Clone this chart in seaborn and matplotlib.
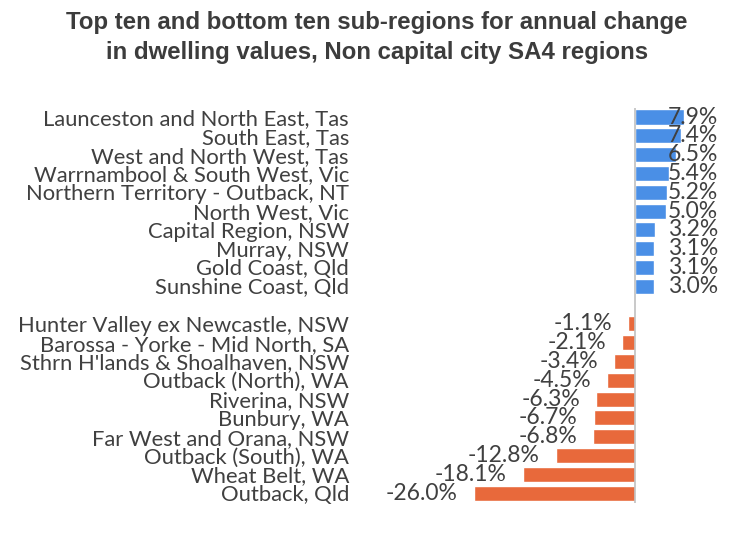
import pandas as pd
import matplotlib.pyplot as plt
import seaborn as sns
import numpy as np

# Data
top_regions = ["Launceston and North East, Tas", "South East, Tas", "West and North West, Tas",
               "Warrnambool & South West, Vic", "Northern Territory - Outback, NT", "North West, Vic",
               "Capital Region, NSW", "Murray, NSW", "Gold Coast, Qld", "Sunshine Coast, Qld"]
top_values = [7.9, 7.4, 6.5, 5.4, 5.2, 5.0, 3.2, 3.1, 3.1, 3.0]

bottom_regions = ["Hunter Valley ex Newcastle, NSW", "Barossa - Yorke - Mid North, SA",
                  "Sthrn H'lands & Shoalhaven, NSW", "Outback (North), WA", "Riverina, NSW",
                  "Bunbury, WA", "Far West and Orana, NSW", "Outback (South), WA",
                  "Wheat Belt, WA", "Outback, Qld"]
bottom_values = [-1.1, -2.1, -3.4, -4.5, -6.3, -6.7, -6.8, -12.8, -18.1, -26.0]

df = pd.DataFrame({
    "region": top_regions + bottom_regions,
    "change": top_values + bottom_values,
    "group": ["top"] * len(top_regions) + ["bottom"] * len(bottom_regions),
})
order = top_regions + [""] + bottom_regions  # blank row between the two groups

sns.set_style("white")
plt.rcParams["font.family"] = ["Lato", "DejaVu Sans"]
text_col = "#404040"

fig = plt.figure(figsize=(7.54, 5.46), dpi=100)
ax = fig.add_axes([360 / 754, 1 - 502.6 / 546, 380 / 754, 395 / 546])

sns.barplot(data=df, x="change", y="region", hue="group", order=order,
            palette={"top": "#4a8fe6", "bottom": "#e8693b"}, width=0.8,
            saturation=1, legend=False, ax=ax)

ax.set_xlim(-44.4, 16.9)
ax.axvline(0, color="#c0c0c0", lw=1.2)
for s in ax.spines.values():
    s.set_visible(False)
ax.set_xticks([])
ax.set_xlabel("")
ax.set_ylabel("")
ax.tick_params(axis="y", length=0, pad=8, labelsize=15.8, labelcolor=text_col)

# value labels
for i, r in enumerate(order):
    if r == "":
        continue
    v = df.loc[df["region"] == r, "change"].iloc[0]
    if v >= 0:
        ax.text(5.3, i, f"{v:.1f}%", ha="left", va="center", fontsize=16.5, color=text_col)
    else:
        ax.text(v - 2.6, i, f"{v:.1f}%", ha="right", va="center", fontsize=16.5, color=text_col)

fig.text(0.5, 1 - 22 / 546, "Top ten and bottom ten sub-regions for annual change",
         ha="center", va="center", fontsize=17.3, fontweight="bold", color="#3c3c3c",
         family="Liberation Sans")
fig.text(0.5, 1 - 52 / 546, "in dwelling values, Non capital city SA4 regions",
         ha="center", va="center", fontsize=17.3, fontweight="bold", color="#3c3c3c",
         family="Liberation Sans")

fig.savefig("out.png", dpi=100)
